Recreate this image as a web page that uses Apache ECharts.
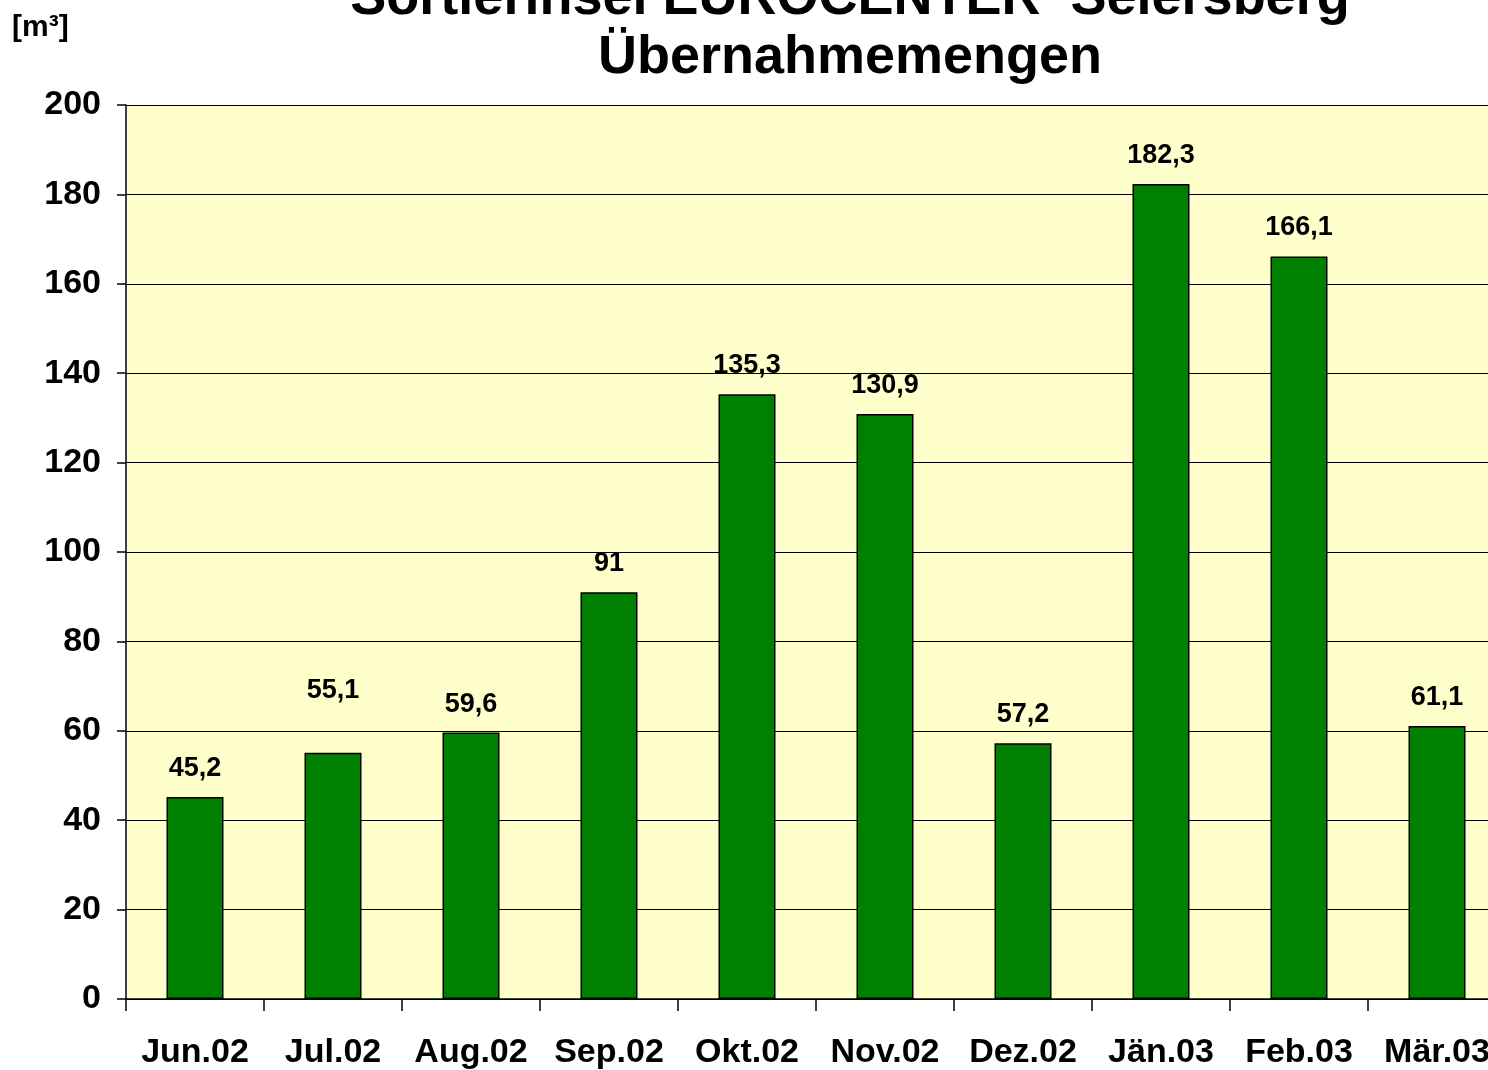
<!DOCTYPE html>
<html>
<head>
<meta charset="utf-8">
<script src="https://cdn.jsdelivr.net/npm/echarts@6/dist/echarts.min.js"></script>
<style>
  html, body { margin: 0; padding: 0; background: #ffffff; overflow: hidden; }
  /* etwas breiter als das Fenster: rechter Rand der Grafik ist im Original abgeschnitten */
  #chart { width: 1506px; height: 1070px; }
</style>
</head>
<body>
<div id="chart"></div>
<script>
// Monate und Übernahmemengen [m³]
var months = ['Jun.02', 'Jul.02', 'Aug.02', 'Sep.02', 'Okt.02', 'Nov.02', 'Dez.02', 'Jän.03', 'Feb.03', 'Mär.03']
var mengen = [45.2, 55.1, 59.6, 91, 135.3, 130.9, 57.2, 182.3, 166.1, 61.1]
var yTicks = [0, 20, 40, 60, 80, 100, 120, 140, 160, 180, 200]

var font = '"Liberation Sans", Arial, sans-serif'

var chart = echarts.init(document.getElementById('chart'))

var barData = mengen.map(function (v, i) {
  var item = { value: v }
  if (i === 1) {
    item.label = { offset: [0, -34] } // Beschriftung im Original höher
  }
  return item
})

chart.setOption({
  backgroundColor: '#ffffff',
  animation: false,
  textStyle: { fontFamily: font },
  graphic: [
    {
      type: 'text',
      x: 850,
      y: 26,
      style: {
        text: 'Sortierinsel EUROCENTER  Seiersberg',
        fill: '#000',
        font: 'bold 54px ' + font,
        textAlign: 'center',
        textVerticalAlign: 'bottom'
      }
    },
    {
      type: 'text',
      x: 850,
      y: 58,
      style: {
        text: 'Übernahmemengen',
        fill: '#000',
        font: 'bold 54px ' + font,
        textAlign: 'center',
        textVerticalAlign: 'middle'
      }
    },
    {
      type: 'text',
      x: 12,
      y: 28,
      style: {
        text: '[m³]',
        fill: '#000',
        font: 'bold 30px ' + font,
        textAlign: 'left',
        textVerticalAlign: 'middle'
      }
    }
  ],
  grid: {
    left: 126,
    right: 0,
    top: 105,
    bottom: 69,
    show: true,
    backgroundColor: '#FFFFCC',
    borderWidth: 0
  },
  xAxis: {
    type: 'category',
    data: months,
    boundaryGap: true,
    axisLine: { show: true, lineStyle: { color: '#000', width: 1.5 } },
    axisTick: { show: true, length: 12, inside: false, lineStyle: { color: '#000', width: 1.5 } },
    axisLabel: {
      interval: 0,
      margin: 37,
      color: '#000',
      fontSize: 34,
      fontWeight: 'bold',
      fontFamily: font
    },
    splitLine: { show: false }
  },
  yAxis: {
    type: 'value',
    min: yTicks[0],
    max: yTicks[yTicks.length - 1],
    interval: 20,
    axisLine: { show: true, lineStyle: { color: '#000', width: 1.5 } },
    axisTick: { show: true, length: 9, lineStyle: { color: '#000', width: 1.5 } },
    axisLabel: {
      margin: 25,
      color: '#000',
      fontSize: 34,
      fontWeight: 'bold',
      fontFamily: font
    },
    splitLine: { show: true, lineStyle: { color: '#000', width: 1 } }
  },
  series: [
    {
      type: 'bar',
      data: barData,
      barWidth: 57,
      itemStyle: {
        color: '#008000',
        borderColor: '#000',
        borderWidth: 1.5
      },
      label: {
        show: true,
        position: 'top',
        distance: 15,
        color: '#000',
        fontSize: 27,
        fontWeight: 'bold',
        fontFamily: font,
        formatter: function (p) {
          return String(p.value).replace('.', ',')
        }
      }
    }
  ]
})
</script>
</body>
</html>
